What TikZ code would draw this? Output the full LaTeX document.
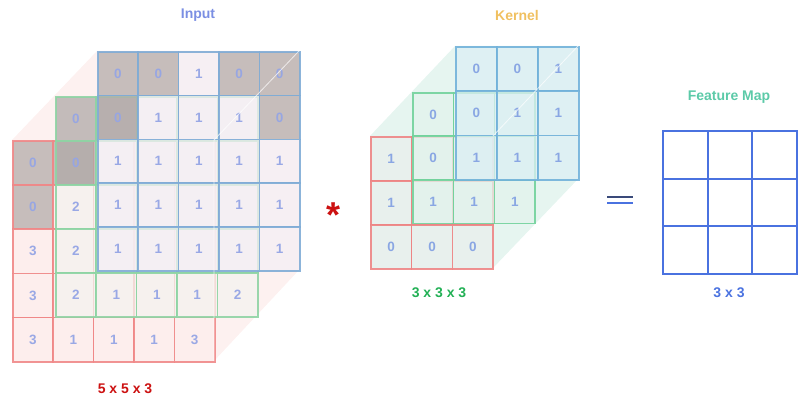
\documentclass[tikz,border=0pt]{standalone}
\usepackage{fontspec}
\setmainfont{Liberation Sans}
\definecolor{inbg}{HTML}{FDF1F0}
\definecolor{redf}{HTML}{FDEDED}
\definecolor{redfzero}{HTML}{B4ACAA}
\definecolor{greenf}{HTML}{F4F3EF}
\definecolor{greenfzero}{HTML}{B0AAA8}
\definecolor{bluef}{HTML}{F4EFF5}
\definecolor{bluefzero}{HTML}{B4ACAA}
\definecolor{redl}{HTML}{F08888}
\definecolor{greenl}{HTML}{8FD4A4}
\definecolor{bluel}{HTML}{80ACD6}
\definecolor{numc}{HTML}{95A5E5}
\definecolor{kbg}{HTML}{E6F5F0}
\definecolor{kredf}{HTML}{E9EFED}
\colorlet{kredfzero}{kredf}
\definecolor{kgreenf}{HTML}{E2F3EC}
\colorlet{kgreenfzero}{kgreenf}
\definecolor{kbluef}{HTML}{DCEFF5}
\colorlet{kbluefzero}{kbluef}
\definecolor{kredl}{HTML}{EE8585}
\definecolor{kgreenl}{HTML}{72D29C}
\definecolor{kbluel}{HTML}{72B2DA}
\definecolor{knumc}{HTML}{85A3E3}
\definecolor{inputc}{HTML}{7B8FE3}
\definecolor{kernelc}{HTML}{F0C060}
\definecolor{fmapc}{HTML}{5CCAA8}
\definecolor{dimred}{HTML}{CC1111}
\definecolor{dimgreen}{HTML}{22B055}
\definecolor{fmline}{HTML}{4A72E0}
\definecolor{eqtopc}{HTML}{3A4A7A}
% values: 0-3 shown; 5 = covered zero cell; 6 = covered non-zero cell
\newcommand\gridlayer[9]{%
  \foreach \row [count=\r from 0] in {#9} {
    \foreach \v [count=\c from 0] in \row {
      \def\fc{#6}\def\tx{\v}%
      \ifnum\v=0 \def\fc{#6zero}\fi
      \ifnum\v=5 \def\fc{#6zero}\fi
      \ifnum\v>4 \def\tx{}\fi
      \node[cellbox, text=#8, minimum width=#4pt, minimum height=#5pt, fill=\fc, draw=#7]
        (#1-\r-\c) at (#2+\c*#4, #3+\r*#5) {\tx};
    }
  }
}
\begin{document}
\begin{tikzpicture}[x=1pt,y=-1pt,
  cellbox/.style={inner sep=0pt, anchor=north west, font=\fontsize{13.5}{14}\selectfont\bfseries,
    line width=1.6pt, fill opacity=0.75, draw opacity=0.9, text opacity=0.95},
  title/.style={font=\fontsize{14}{16}\selectfont\bfseries, inner sep=0pt},
  fmcell/.style={draw=fmline, line width=2pt, minimum width=44.7pt, minimum height=47.7pt,
    inner sep=0pt, anchor=north west},
  eqline/.style={line width=2pt},
  edgeline/.style={draw=white, line width=0.8pt, opacity=0.7}
]
\useasboundingbox (0,0) rectangle (810,406);
% ---------- Input ----------
\fill[inbg] (12,140) -- (97,51) -- (299,51) -- (299,270) -- (214,361) -- (12,361) -- cycle;
\gridlayer{inr}{12}{140}{40.4}{44.2}{redf}{redl}{numc}{
  {0,5,6,6,6},{0,6,6,6,6},{3,6,6,6,6},{3,6,6,6,6},{3,1,1,1,3}}
\gridlayer{ing}{55}{96}{40.4}{44}{greenf}{greenl}{numc}{
  {0,5,6,6,6},{0,6,6,6,6},{2,6,6,6,6},{2,6,6,6,6},{2,1,1,1,2}}
\gridlayer{inb}{97}{51}{40.4}{43.8}{bluef}{bluel}{numc}{
  {0,0,1,0,0},{0,1,1,1,0},{1,1,1,1,1},{1,1,1,1,1},{1,1,1,1,1}}
\draw[edgeline] (299,51) -- (214,140) -- (214,361);
\node[title, text=inputc] (tin) at (198,15) {Input};
\node[title, text=dimred] (din) at (125,389) {5 x 5 x 3};
% ---------- operator ----------
\node[font=\fontsize{36}{36}\selectfont\bfseries, text=dimred, inner sep=0pt, anchor=base]
  (star) at (333,227) {*};
% ---------- Kernel ----------
\fill[kbg] (370,136) -- (455,46) -- (578,46) -- (578,179) -- (493,268) -- (370,268) -- cycle;
\gridlayer{kr}{370}{136}{40.8}{44}{kredf}{kredl}{knumc}{
  {1,5,6},{1,6,6},{0,0,0}}
\gridlayer{kg}{412}{92}{40.8}{43.5}{kgreenf}{kgreenl}{knumc}{
  {0,5,6},{0,6,6},{1,1,1}}
\gridlayer{kb}{455}{46}{41}{44.3}{kbluef}{kbluel}{knumc}{
  {0,0,1},{0,1,1},{1,1,1}}
\draw[edgeline] (578,46) -- (493,136);
\node[title, text=kernelc] (tk) at (517,15) {Kernel};
\node[title, text=dimgreen] (dk) at (439,293) {3 x 3 x 3};
% ---------- equals ----------
\coordinate (eqa) at (607,197);
\coordinate (eqb) at (633,197);
\coordinate (eqc) at (607,202.5);
\coordinate (eqd) at (633,202.5);
\draw[eqline, eqtopc] (eqa) -- (eqb);
\draw[eqline, fmline] (eqc) -- (eqd);
% ---------- Feature map ----------
\foreach \r in {0,1,2} {
  \foreach \c in {0,1,2} {
    \node[fmcell] (fm-\r-\c) at (662+\c*44.7, 130+\r*47.7) {};
  }
}
\node[title, text=fmapc] (tfm) at (729,97) {Feature Map};
\node[title, text=fmline] (dfm) at (729,293) {3 x 3};
\end{tikzpicture}
\end{document}
